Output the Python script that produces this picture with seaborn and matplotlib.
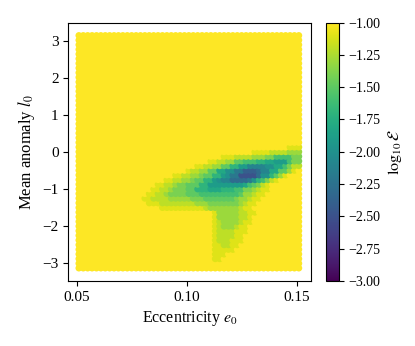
import numpy as np
import pandas as pd
import matplotlib
matplotlib.use('Agg')
import matplotlib.pyplot as plt
import seaborn as sns

plt.rcParams['font.family'] = 'Liberation Serif'
plt.rcParams['mathtext.fontset'] = 'stix'

# grid of initial conditions (51 x 51 scan)
e0_grid = np.linspace(0.051, 0.151, 51)
l0_grid = np.linspace(-np.pi, np.pi, 51)

# log10 error, one hex level per cell: value = -1 - 0.1*level
# each run starts at (row in l0_grid, column in e0_grid); all other cells are at the -1 ceiling
run_row = [2, 3, 4, 5, 6, 7, 8, 9, 10, 11, 12, 13, 14, 15, 16, 17, 18, 19, 20, 21, 22, 23, 24, 25, 26]
run_col = [31, 31, 31, 31, 31, 31, 31, 31, 31, 31, 31, 19, 16, 15, 16, 17, 18, 20, 22, 25, 27, 30, 33, 40, 48]
run_levels = [
    "11",
    "111",
    "11111",
    "112211",
    "1222111",
    "1222211",
    "12222111",
    "12333211",
    "123333211",
    "133333221",
    "1333332211",
    "111111111123333333211",
    "1112222222233344444443211",
    "112222333334445555555433211",
    "112234444555666666666533211",
    "112234445577788877766443211",
    "11223445557799999999865421",
    "112233455779abbddddca76421",
    "112233455779accffffdaa7531",
    "122335588aacceeedbb8855310",
    "112233557799bbbbaa886422",
    "112233556667788999644",
    "111222233344666644",
    "11112222333",
    "111",
]

log_err = np.full((len(l0_grid), len(e0_grid)), -1.0)
for r, c, s in zip(run_row, run_col, run_levels):
    for k, ch in enumerate(s):
        log_err[r, c + k] = -1 - 0.1 * int(ch, 16)

E, L = np.meshgrid(e0_grid, l0_grid)
df = pd.DataFrame({'e0': E.ravel(), 'l0': L.ravel(), 'log_err': log_err.ravel()})

fig = plt.figure(figsize=(4.15, 3.46), dpi=100)
ax = fig.add_axes([0.1646, 0.1879, 0.5841, 0.7468])
cax = fig.add_axes([0.7855, 0.1879, 0.0313, 0.7468])

norm = plt.Normalize(-3, -1)
sns.scatterplot(data=df, x='e0', y='l0', hue='log_err', palette='viridis', hue_norm=norm,
                s=24, linewidth=0, marker='o', legend=False, ax=ax)

ax.set_xlim(0.0462, 0.1564)
ax.set_ylim(-3.49, 3.49)
ax.set_xticks([0.05, 0.10, 0.15])
ax.set_xticklabels(['0.05', '0.10', '0.15'])
ax.set_yticks(range(-3, 4))
ax.tick_params(labelsize=11)
ax.set_xlabel(r'Eccentricity $e_0$', fontsize=11.5)
ax.set_ylabel(r'Mean anomaly $l_0$', fontsize=12)

sm = plt.cm.ScalarMappable(norm=norm, cmap='viridis')
cb = fig.colorbar(sm, cax=cax)
cb.set_ticks(np.arange(-3, -0.99, 0.25))
cb.ax.tick_params(labelsize=10)
cb.set_label(r'$\log_{10}\mathcal{E}$', fontsize=11.5)

fig.savefig('out.png', dpi=100)
